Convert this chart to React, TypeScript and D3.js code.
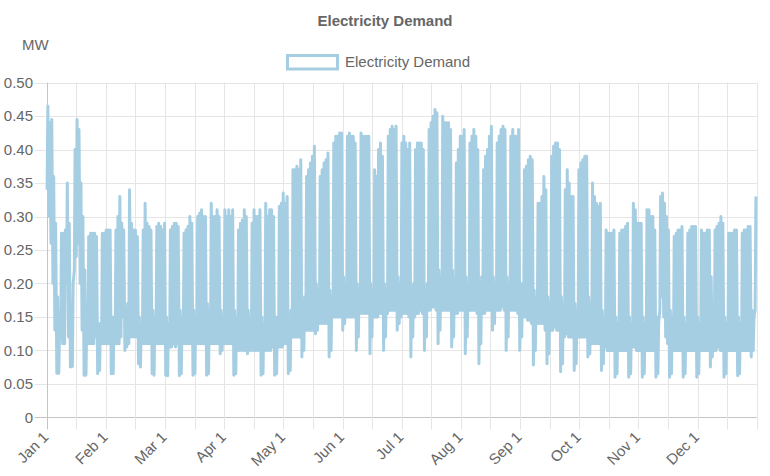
import * as d3 from "d3";

const TITLE = "Electricity Demand";
const SERIES_NAME = "Electricity Demand";
const Y_UNIT = "MW";
const MONTH_LABELS = ["Jan 1", "Feb 1", "Mar 1", "Apr 1", "May 1", "Jun 1", "Jul 1", "Aug 1", "Sep 1", "Oct 1", "Nov 1", "Dec 1"];
const X_GRID_STEPS = 24; // grid lines every half month, labels on every other one
const Y_TICKS = [0, 0.05, 0.1, 0.15, 0.2, 0.25, 0.3, 0.35, 0.4, 0.45, 0.5];
const DAYS_IN_YEAR = 365;

// daily peak demand (MW), one row per week (Mon..Sun)
const DAILY_HIGH = [
  0.465, 0.44, 0.445, 0.36, 0.29, 0.18, 0.125,
  0.275, 0.275, 0.28, 0.35, 0.29, 0.17, 0.2,
  0.4, 0.445, 0.43, 0.35, 0.3, 0.22, 0.15,
  0.27, 0.275, 0.275, 0.275, 0.27, 0.14, 0.14,
  0.275, 0.275, 0.28, 0.28, 0.28, 0.15, 0.15,
  0.28, 0.3, 0.33, 0.29, 0.28, 0.16, 0.17,
  0.34, 0.29, 0.28, 0.28, 0.27, 0.15, 0.14,
  0.28, 0.32, 0.29, 0.285, 0.28, 0.16, 0.15,
  0.285, 0.29, 0.285, 0.28, 0.29, 0.15, 0.14,
  0.28, 0.285, 0.29, 0.29, 0.285, 0.16, 0.15,
  0.275, 0.28, 0.285, 0.3, 0.29, 0.16, 0.15,
  0.3, 0.305, 0.31, 0.3, 0.3, 0.17, 0.16,
  0.32, 0.3, 0.3, 0.31, 0.3, 0.16, 0.15,
  0.31, 0.3, 0.31, 0.3, 0.31, 0.16, 0.15,
  0.28, 0.29, 0.295, 0.31, 0.3, 0.16, 0.15,
  0.29, 0.31, 0.3, 0.3, 0.31, 0.15, 0.14,
  0.32, 0.3, 0.31, 0.31, 0.3, 0.15, 0.15,
  0.315, 0.32, 0.335, 0.32, 0.33, 0.15, 0.16,
  0.37, 0.37, 0.375, 0.37, 0.385, 0.17, 0.18,
  0.36, 0.37, 0.38, 0.39, 0.405, 0.2, 0.19,
  0.36, 0.37, 0.38, 0.385, 0.395, 0.19, 0.18,
  0.41, 0.42, 0.42, 0.425, 0.425, 0.21, 0.2,
  0.42, 0.425, 0.42, 0.42, 0.41, 0.2, 0.19,
  0.425, 0.42, 0.42, 0.42, 0.42, 0.2, 0.19,
  0.37, 0.36, 0.4, 0.41, 0.39, 0.2, 0.19,
  0.42, 0.43, 0.435, 0.43, 0.435, 0.21, 0.2,
  0.41, 0.42, 0.41, 0.4, 0.41, 0.19, 0.2,
  0.4, 0.41, 0.41, 0.41, 0.4, 0.19, 0.2,
  0.43, 0.44, 0.45, 0.46, 0.455, 0.22, 0.21,
  0.45, 0.44, 0.44, 0.44, 0.43, 0.22, 0.21,
  0.38, 0.4, 0.42, 0.42, 0.43, 0.21, 0.2,
  0.41, 0.42, 0.43, 0.42, 0.4, 0.2, 0.21,
  0.37, 0.39, 0.4, 0.42, 0.435, 0.21, 0.2,
  0.41, 0.42, 0.43, 0.435, 0.43, 0.21, 0.2,
  0.42, 0.43, 0.42, 0.42, 0.43, 0.2, 0.2,
  0.37, 0.375, 0.385, 0.39, 0.385, 0.19, 0.18,
  0.32, 0.32, 0.33, 0.36, 0.34, 0.18, 0.17,
  0.39, 0.405, 0.41, 0.41, 0.4, 0.18, 0.17,
  0.34, 0.37, 0.35, 0.33, 0.33, 0.17, 0.16,
  0.37, 0.38, 0.385, 0.39, 0.39, 0.18, 0.17,
  0.35, 0.33, 0.32, 0.315, 0.32, 0.16, 0.15,
  0.28, 0.275, 0.275, 0.275, 0.28, 0.15, 0.14,
  0.275, 0.28, 0.28, 0.285, 0.29, 0.15, 0.14,
  0.32, 0.31, 0.29, 0.29, 0.29, 0.15, 0.14,
  0.31, 0.31, 0.3, 0.3, 0.28, 0.15, 0.14,
  0.33, 0.335, 0.32, 0.3, 0.28, 0.16, 0.15,
  0.27, 0.275, 0.28, 0.28, 0.285, 0.15, 0.14,
  0.275, 0.28, 0.285, 0.285, 0.285, 0.15, 0.14,
  0.28, 0.275, 0.275, 0.28, 0.28, 0.21, 0.15,
  0.28, 0.285, 0.29, 0.3, 0.29, 0.15, 0.14,
  0.275, 0.275, 0.275, 0.28, 0.28, 0.15, 0.14,
  0.275, 0.28, 0.28, 0.285, 0.285, 0.16, 0.15,
  0.33,
];

// daily minimum demand (MW), same layout
const DAILY_LOW = [
  0.34, 0.3, 0.26, 0.2, 0.13, 0.066, 0.066,
  0.12, 0.11, 0.11, 0.2, 0.12, 0.075, 0.076,
  0.22, 0.24, 0.26, 0.2, 0.13, 0.063, 0.063,
  0.11, 0.11, 0.11, 0.11, 0.12, 0.065, 0.07,
  0.11, 0.11, 0.11, 0.11, 0.11, 0.065, 0.065,
  0.11, 0.11, 0.11, 0.12, 0.15, 0.1, 0.105,
  0.11, 0.12, 0.12, 0.12, 0.12, 0.08, 0.075,
  0.11, 0.11, 0.11, 0.11, 0.11, 0.065, 0.063,
  0.11, 0.11, 0.11, 0.11, 0.11, 0.063, 0.062,
  0.105, 0.105, 0.11, 0.105, 0.11, 0.062, 0.065,
  0.11, 0.11, 0.11, 0.11, 0.11, 0.063, 0.065,
  0.11, 0.11, 0.11, 0.11, 0.11, 0.063, 0.065,
  0.11, 0.11, 0.11, 0.11, 0.11, 0.095, 0.1,
  0.11, 0.11, 0.11, 0.11, 0.11, 0.063, 0.065,
  0.1, 0.1, 0.1, 0.1, 0.1, 0.095, 0.1,
  0.1, 0.1, 0.1, 0.1, 0.1, 0.063, 0.065,
  0.1, 0.1, 0.1, 0.1, 0.105, 0.063, 0.065,
  0.105, 0.105, 0.105, 0.11, 0.11, 0.065, 0.07,
  0.12, 0.12, 0.12, 0.12, 0.12, 0.09, 0.1,
  0.13, 0.13, 0.13, 0.13, 0.13, 0.125, 0.13,
  0.14, 0.14, 0.14, 0.14, 0.14, 0.09, 0.1,
  0.15, 0.15, 0.15, 0.15, 0.15, 0.13, 0.14,
  0.15, 0.15, 0.15, 0.15, 0.15, 0.1, 0.12,
  0.155, 0.155, 0.155, 0.155, 0.155, 0.095, 0.12,
  0.15, 0.15, 0.15, 0.155, 0.155, 0.1, 0.12,
  0.155, 0.16, 0.16, 0.16, 0.16, 0.13, 0.14,
  0.15, 0.155, 0.155, 0.155, 0.15, 0.09, 0.12,
  0.15, 0.155, 0.155, 0.16, 0.155, 0.1, 0.12,
  0.16, 0.16, 0.165, 0.165, 0.16, 0.11, 0.13,
  0.16, 0.16, 0.16, 0.16, 0.16, 0.105, 0.12,
  0.155, 0.155, 0.16, 0.16, 0.16, 0.095, 0.12,
  0.16, 0.16, 0.16, 0.16, 0.155, 0.08, 0.11,
  0.155, 0.155, 0.16, 0.16, 0.16, 0.13, 0.14,
  0.16, 0.16, 0.16, 0.165, 0.16, 0.1, 0.12,
  0.16, 0.16, 0.16, 0.16, 0.155, 0.1, 0.12,
  0.15, 0.15, 0.145, 0.145, 0.14, 0.078, 0.1,
  0.14, 0.14, 0.14, 0.14, 0.13, 0.08, 0.095,
  0.13, 0.13, 0.135, 0.13, 0.13, 0.068, 0.08,
  0.12, 0.125, 0.12, 0.12, 0.12, 0.07, 0.08,
  0.12, 0.12, 0.12, 0.12, 0.12, 0.09, 0.095,
  0.11, 0.11, 0.11, 0.11, 0.11, 0.07, 0.08,
  0.105, 0.1, 0.1, 0.1, 0.1, 0.06, 0.065,
  0.1, 0.1, 0.1, 0.1, 0.1, 0.06, 0.065,
  0.105, 0.105, 0.1, 0.1, 0.1, 0.06, 0.065,
  0.1, 0.1, 0.1, 0.1, 0.1, 0.06, 0.065,
  0.16, 0.18, 0.15, 0.12, 0.11, 0.06, 0.065,
  0.1, 0.1, 0.1, 0.1, 0.1, 0.06, 0.065,
  0.1, 0.1, 0.1, 0.1, 0.1, 0.06, 0.065,
  0.1, 0.1, 0.1, 0.1, 0.1, 0.075, 0.09,
  0.1, 0.1, 0.105, 0.1, 0.1, 0.06, 0.065,
  0.1, 0.1, 0.1, 0.1, 0.1, 0.062, 0.065,
  0.1, 0.1, 0.1, 0.1, 0.1, 0.09, 0.1,
  0.16,
];

// time of day (fraction) when the daily min and max occur
const LOW_AT = 0.2;
const HIGH_AT = 0.6;

const WIDTH = 770;
const HEIGHT = 476;
const margin = { top: 82.7, right: 13.3, bottom: 58.7, left: 46.7 };
const FONT = "'Liberation Sans', Arial, Helvetica, sans-serif";
const TEXT_COLOR = "#666";
const LINE_COLOR = "#a6cee3";
const GRID_COLOR = "#e5e5e5";
const AXIS_COLOR = "#c4c4c4";

export default function App() {
  const x = d3
    .scaleLinear()
    .domain([0, DAYS_IN_YEAR])
    .range([margin.left, WIDTH - margin.right]);
  const y = d3
    .scaleLinear()
    .domain([0, 0.5])
    .range([HEIGHT - margin.bottom, margin.top]);

  // flatten the daily min / max into one path
  const points: { t: number; v: number }[] = [];
  DAILY_LOW.forEach((lo, d) => {
    points.push({ t: d + LOW_AT, v: lo });
    points.push({ t: d + HIGH_AT, v: DAILY_HIGH[d] });
  });

  const line = d3
    .line<{ t: number; v: number }>()
    .x((p) => x(p.t))
    .y((p) => y(p.v));

  const xTicks = d3.range(X_GRID_STEPS + 1).map((k) => (DAYS_IN_YEAR * k) / X_GRID_STEPS);
  const [x0, x1] = x.range();
  const [yBottom, yTop] = y.range();

  return (
    <>
      <style>{"body{margin:0}"}</style>
      <svg width={WIDTH} height={HEIGHT} style={{ display: "block", fontFamily: FONT }}>
        <rect width={WIDTH} height={HEIGHT} fill="#fff" />

        <text x={WIDTH / 2} y={26} textAnchor="middle" fontSize={15} fontWeight="bold" fill={TEXT_COLOR}>
          {TITLE}
        </text>

        {/* legend */}
        <rect x={287.5} y={55.5} width={50} height={13.5} fill="#fff" stroke={LINE_COLOR} strokeWidth={3} />
        <text x={345} y={67} fontSize={15} fill={TEXT_COLOR}>
          {SERIES_NAME}
        </text>

        <text x={22} y={49.5} fontSize={15} fill={TEXT_COLOR}>
          {Y_UNIT}
        </text>

        {/* horizontal grid + y labels */}
        {Y_TICKS.map((v) => (
          <g key={v}>
            <line
              x1={x0 - 12}
              x2={x1}
              y1={Math.round(y(v)) + 0.5}
              y2={Math.round(y(v)) + 0.5}
              stroke={v === 0 ? AXIS_COLOR : GRID_COLOR}
            />
            <text x={33} y={y(v)} dy="0.35em" textAnchor="end" fontSize={15} fill={TEXT_COLOR}>
              {v === 0 ? "0" : v.toFixed(2)}
            </text>
          </g>
        ))}

        {/* vertical grid + x labels */}
        {xTicks.map((t, k) => (
          <line
            key={k}
            x1={Math.round(x(t)) + 0.5}
            x2={Math.round(x(t)) + 0.5}
            y1={yTop}
            y2={yBottom + 12}
            stroke={k === 0 ? AXIS_COLOR : GRID_COLOR}
          />
        ))}
        {MONTH_LABELS.map((label, i) => {
          const tx = x(xTicks[i * 2]);
          return (
            <text
              key={label}
              transform={`translate(${tx - 1},${yBottom + 17}) rotate(-45)`}
              dy="0.35em"
              textAnchor="end"
              fontSize={15}
              fill={TEXT_COLOR}
            >
              {label}
            </text>
          );
        })}

        <path
          d={line(points) ?? ""}
          fill="none"
          stroke={LINE_COLOR}
          strokeWidth={3}
          strokeLinejoin="round"
        />
      </svg>
    </>
  );
}
